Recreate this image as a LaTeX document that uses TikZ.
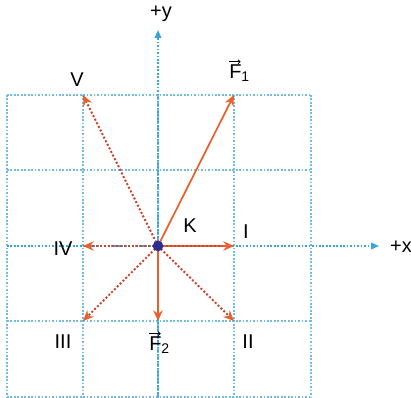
\documentclass[tikz,border=0pt]{standalone}
\usepackage{fontspec}
\setmainfont{Liberation Sans}
\usetikzlibrary{arrows.meta}
\definecolor{vecor}{HTML}{E8612C}
\definecolor{vecdot}{HTML}{C9452C}
\definecolor{gridb}{HTML}{72BCDD}
\definecolor{axisb}{HTML}{3AA6D8}
\definecolor{knavy}{HTML}{2B2F8F}
\begin{document}
\begin{tikzpicture}[x=0.75pt,y=-0.75pt,
  gridline/.style={gridb, line width=1.1pt, dash pattern=on 1.3pt off 1.3pt},
  axisline/.style={axisb, line width=1.1pt, dash pattern=on 1.3pt off 1.3pt, -{Triangle[length=6pt,width=5pt]}},
  solidvec/.style={vecor, line width=1.3pt, -{Stealth[length=8pt,width=7pt]}},
  dotvec/.style={vecdot, line width=1.5pt, dash pattern=on 1.5pt off 1.5pt, -{Stealth[length=8pt,width=7pt,color=vecor,fill=vecor]}},
  vecbar/.style={black, line width=0.6pt, -{Straight Barb[length=1.6pt,width=3pt]}},
  lbl/.style={inner sep=0pt, font=\fontsize{15}{17}\selectfont}]
\useasboundingbox (0,0) rectangle (411,398);
% grid
\foreach \x in {7,83,158,234,311} \draw[gridline] (\x,95) -- (\x,397);
\foreach \y in {95,170,246,321,397} \draw[gridline] (7,\y) -- (311,\y);
% axes
\coordinate (ybot) at (158,397);
\coordinate (ytop) at (158,30);
\coordinate (xleft) at (7,246);
\coordinate (xright) at (379,246);
\draw[axisline] (ybot) -- (ytop);
\draw[axisline] (xleft) -- (xright);
% points
\coordinate (K) at (158,246);
\coordinate (pF1) at (234,95);
\coordinate (pV) at (83,95);
\coordinate (pI) at (234,246);
\coordinate (pIV) at (83,246);
\coordinate (pIII) at (83,321);
\coordinate (pF2) at (158,321);
\coordinate (pII) at (234,321);
% vectors
\draw[dotvec] (K) -- (pV);
\draw[dotvec] (K) -- (pIV);
\draw[dotvec] (K) -- (pIII);
\draw[dotvec] (K) -- (pII);
\draw[solidvec] (K) -- (pF1);
\draw[solidvec] (K) -- (pF2);
\draw[solidvec] (K) -- (pI);
\draw[vecdot, line width=1.5pt, dash pattern=on 1.5pt off 1.5pt] (K) -- ([xshift=-8pt]pI);
\fill[knavy] (K) circle (4pt);
% labels
\node[lbl] (ly) at (161,14) {+y};
\node[lbl] (lx) at (401,247) {+x};
\node[lbl] (lV) at (77,80) {V};
\node[lbl, anchor=south west] (lF1) at (229,82) {F\textsubscript{1}};
\draw[vecbar] ([xshift=0.3pt,yshift=2.2pt]lF1.north west) -- ++(8.5pt,0);
\node[lbl] (lK) at (190,226) {K};
\node[lbl] (lI) at (246,232) {I};
\node[lbl] (lIV) at (63,249) {IV};
\node[lbl] (lIII) at (63,342) {III};
\node[lbl, anchor=south west] (lF2) at (149,354) {F\textsubscript{2}};
\draw[vecbar] ([xshift=0.3pt,yshift=2.2pt]lF2.north west) -- ++(8.5pt,0);
\node[lbl] (lII) at (248,342) {II};
\end{tikzpicture}
\end{document}
